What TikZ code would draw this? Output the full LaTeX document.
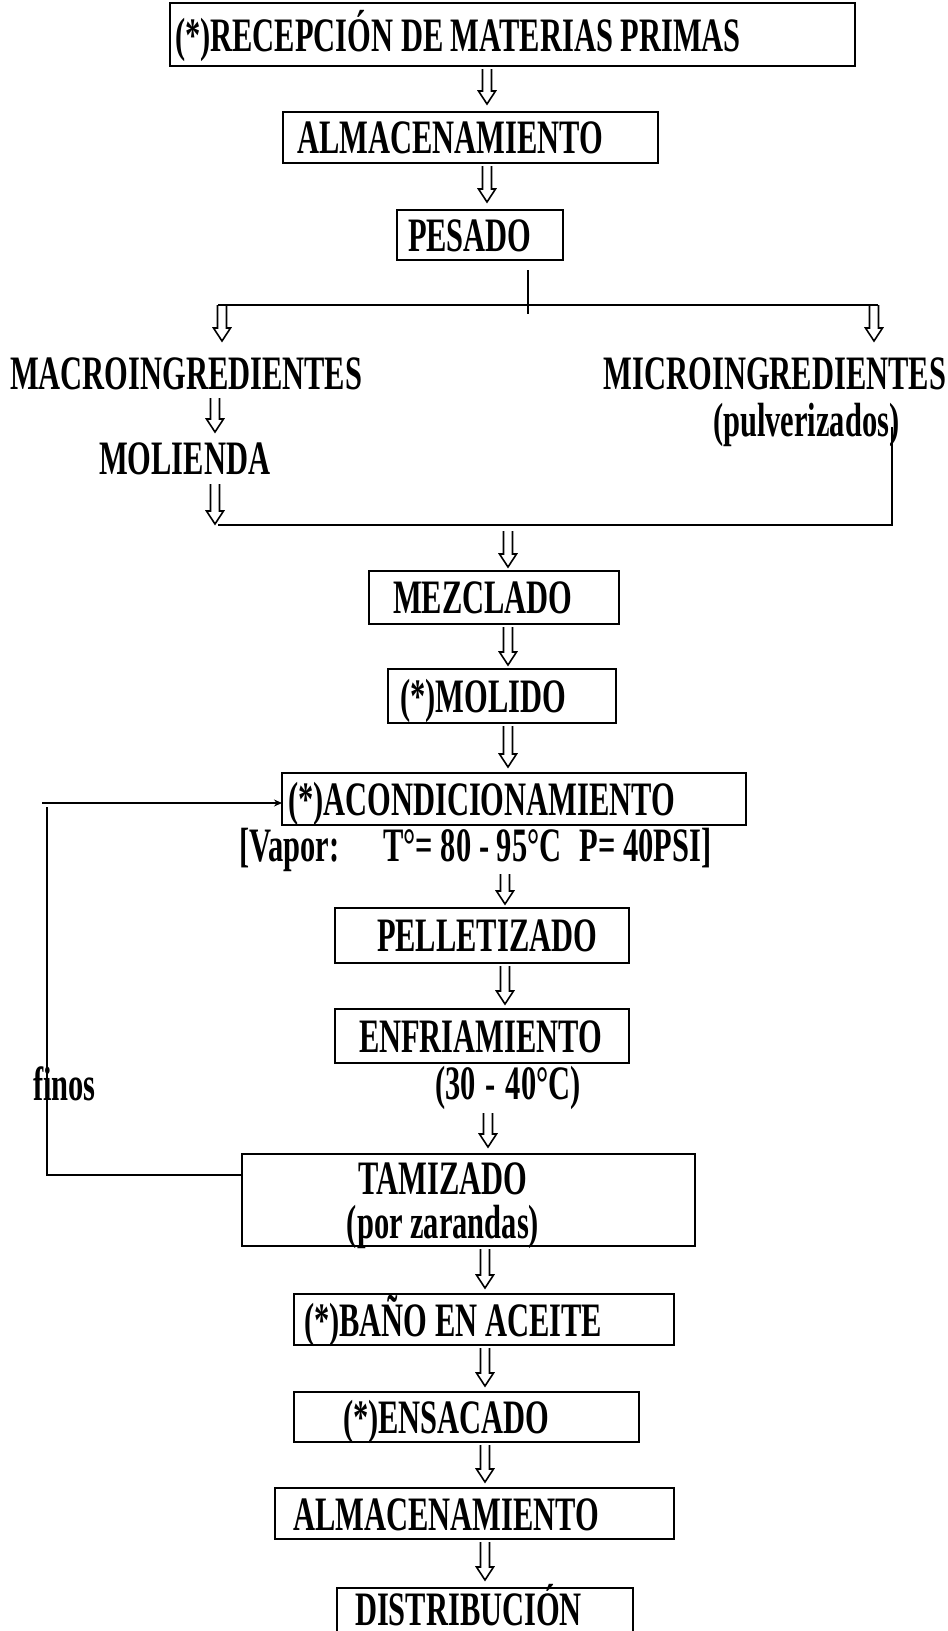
\documentclass[tikz,border=0pt]{standalone}
\usepackage{fontspec}
\setmainfont{Liberation Serif}[FakeStretch=0.635]
\usetikzlibrary{calc,fit,arrows.meta}
\tikzset{
  box/.style={draw, line width=1.9pt, inner sep=0pt, outer sep=0pt},
  lbl/.style={inner sep=0pt, outer sep=0pt, anchor=base west, font=\fontsize{48}{50}\selectfont\bfseries},
  conn/.style={line width=2.2pt},
  thinconn/.style={line width=1.5pt},
  hollowst/.style={line width=1.6pt, line join=miter},
}
\newcommand\hollowdown[2]{\draw[hollowst] let \p1=(#1), \p2=(#2) in
  (\x1-4.5pt,\y1) -- (\x1-4.5pt,\y2+13pt) -- (\x1-8.5pt,\y2+13pt) -- (\x1,\y2)
  -- (\x1+8.5pt,\y2+13pt) -- (\x1+4.5pt,\y2+13pt) -- (\x1+4.5pt,\y1);}
\begin{document}
\begin{tikzpicture}[x=1pt,y=-1pt]
\useasboundingbox (0,0) rectangle (948,1631);
\clip (0,0) rectangle (948,1631);
% arrow columns
\coordinate (ax1) at (487,0);
\coordinate (ax3) at (508,0);
\coordinate (ax4) at (505,0);
\coordinate (ax5) at (488,0);
\coordinate (ax6) at (485,0);
% ---- boxes and texts
\node[box, fit={(170,3)(855,66)}] (r1) {};
\node[lbl] (r1t) at (175,51) {(*)RECEPCIÓN DE MATERIAS PRIMAS};
\node[box, fit={(283,112)(658,163)}] (alm1) {};
\node[lbl] (alm1t) at (297,153) {ALMACENAMIENTO};
\node[box, fit={(397,210)(563,260)}] (pes) {};
\node[lbl] (pest) at (408,251) {PESADO};
\node[lbl] (macro) at (10,389) {MACROINGREDIENTES};
\node[lbl, anchor=base east] (micro) at (946,389) {MICROINGREDIENTES};
\node[lbl] (pulv) at (713,436) {(pulverizados)};
\node[lbl] (moli) at (99,474) {MOLIENDA};
\node[box, fit={(369,571)(619,624)}] (mez) {};
\node[lbl] (mezt) at (393,613) {MEZCLADO};
\node[box, fit={(388,669)(616,723)}] (mol) {};
\node[lbl] (molt) at (400,712) {(*)MOLIDO};
\node[box, fit={(282,773)(746,825)}] (acond) {};
\node[lbl] (acondt) at (288,815) {(*)ACONDICIONAMIENTO};
\node[lbl] (vapor) at (239,861) {[Vapor:\hspace{44pt}T°= 80 - 95°C\hspace{18pt}P= 40PSI]};
\node[box, fit={(335,908)(629,963)}] (pel) {};
\node[lbl] (pelt) at (377,951) {PELLETIZADO};
\node[box, fit={(335,1009)(629,1063)}] (enf) {};
\node[lbl] (enft) at (359,1052) {ENFRIAMIENTO};
\node[lbl] (temp) at (435,1099) {(30\hspace{10pt}-\hspace{10pt}40°C)};
\node[lbl] (finos) at (33,1100) {finos};
\node[box, fit={(242,1154)(695,1246)}] (tam) {};
\node[lbl, anchor=base] (tamt) at (443,1194) {TAMIZADO};
\node[lbl, anchor=base] (tamt2) at (443,1238) {(por zarandas)};
\node[box, fit={(294,1294)(674,1345)}] (bano) {};
\node[lbl] (banot) at (304,1336) {(*)BAÑO EN ACEITE};
\node[box, fit={(294,1392)(639,1442)}] (ens) {};
\node[lbl] (enst) at (343,1433) {(*)ENSACADO};
\node[box, fit={(275,1488)(674,1539)}] (alm2) {};
\node[lbl] (alm2t) at (293,1530) {ALMACENAMIENTO};
\node[box, fit={(337,1588)(633,1680)}] (dist) {};
\node[lbl] (distt) at (355,1625) {DISTRIBUCIÓN};
% ---- branching lines
\coordinate (bT) at (528,270);
\coordinate (bB) at (528,314);
\coordinate (bL) at (218,305);
\coordinate (bR) at (878,305);
\draw[conn] (bT) -- (bB);
\draw[conn] (bL) -- (bR);
\coordinate (aL1) at (222,305);
\coordinate (aL2) at (222,341);
\coordinate (aR1) at (874,305);
\coordinate (aR2) at (874,341);
\hollowdown{aL1}{aL2}
\hollowdown{aR1}{aR2}
\coordinate (am1) at (215,398);
\coordinate (am2) at (215,432);
\hollowdown{am1}{am2}
\coordinate (am3) at (215,484);
\coordinate (am4) at (215,524);
\hollowdown{am3}{am4}
% merge
\coordinate (mL) at (218,525);
\coordinate (mR) at (892,525);
\coordinate (mT) at (892,427);
\draw[conn] (mL) -- (mR) -- (mT);
% ---- main column arrows
\coordinate (vapS) at (505,874);
\coordinate (tmpS) at (488,1113);
\hollowdown{$(r1.south -| ax1)+(0,3)$}{$(alm1.north -| ax1)+(0,-8)$}
\hollowdown{$(alm1.south -| ax1)+(0,3)$}{$(pes.north -| ax1)+(0,-8)$}
\hollowdown{$(mL -| ax3)+(0,6)$}{$(mez.north -| ax3)+(0,-4)$}
\hollowdown{$(mez.south -| ax3)+(0,3)$}{$(mol.north -| ax3)+(0,-4)$}
\hollowdown{$(mol.south -| ax3)+(0,3)$}{$(acond.north -| ax3)+(0,-6)$}
\hollowdown{vapS}{$(pel.north -| ax4)+(0,-4)$}
\hollowdown{$(pel.south -| ax4)+(0,3)$}{$(enf.north -| ax4)+(0,-5)$}
\hollowdown{tmpS}{$(tam.north -| ax5)+(0,-7)$}
\hollowdown{$(tam.south -| ax6)+(0,3)$}{$(bano.north -| ax6)+(0,-6)$}
\hollowdown{$(bano.south -| ax6)+(0,3)$}{$(ens.north -| ax6)+(0,-6)$}
\hollowdown{$(ens.south -| ax6)+(0,3)$}{$(alm2.north -| ax6)+(0,-6)$}
\hollowdown{$(alm2.south -| ax6)+(0,3)$}{$(dist.north -| ax6)+(0,-8)$}
% ---- feedback of fines
\coordinate (fbL) at (47,1175);
\coordinate (fbT) at (47,808);
\coordinate (fbS) at (42,803);
\draw[conn, line cap=rect] (tam.west |- fbL) -- (fbL) -- (fbT);
\draw[thinconn, -{Stealth[length=8pt,width=7pt]}] (fbS) -- (fbS -| acond.west);
\end{tikzpicture}
\end{document}
